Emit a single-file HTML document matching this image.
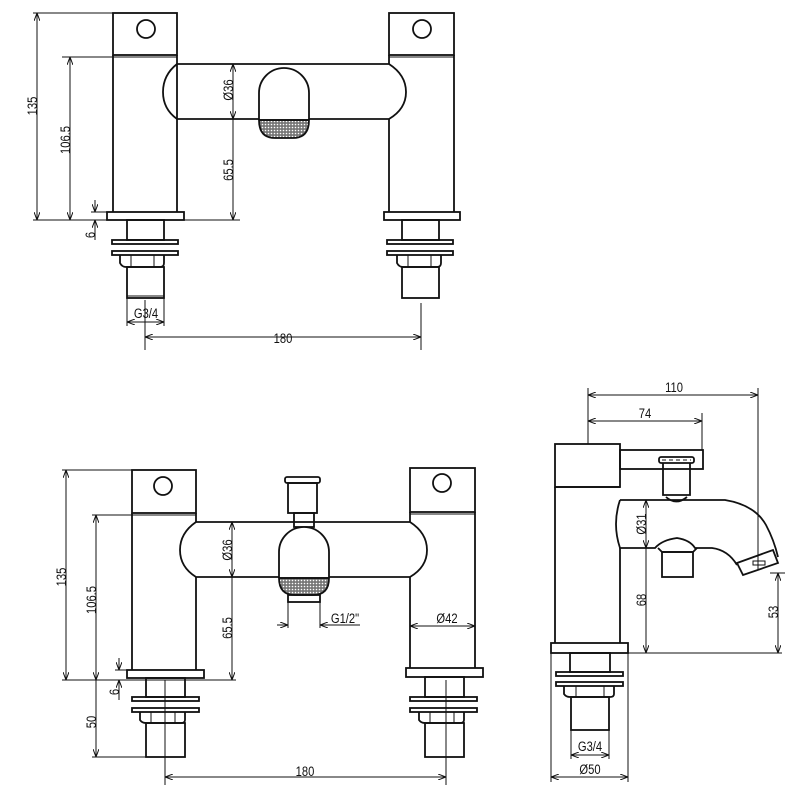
<!DOCTYPE html>
<html><head><meta charset="utf-8"><style>
html,body{margin:0;padding:0;background:#fff;width:800px;height:797px;overflow:hidden}
svg{display:block}
text{font-family:"Liberation Sans",sans-serif;font-size:14px;fill:#111}
</style></head><body>
<svg width="800" height="797" viewBox="0 0 800 797" xmlns="http://www.w3.org/2000/svg">
<defs>
<pattern id="mesh" width="3" height="3" patternUnits="userSpaceOnUse"><rect width="3" height="3" fill="#777"/><circle cx="1.5" cy="1.5" r="0.8" fill="#fff"/></pattern>
<marker id="ar" markerWidth="8" markerHeight="6" refX="8" refY="3" orient="auto-start-reverse" markerUnits="userSpaceOnUse"><path d="M0,0 L8,3 L0,6" fill="none" stroke="#111" stroke-width="1"/></marker>
</defs>
<g fill="none" stroke="#111" stroke-width="1.8">
<!-- ===== TOP VIEW ===== -->
<rect x="113" y="13" width="64" height="42"/><circle cx="146" cy="29" r="9"/>
<line x1="113" y1="57" x2="177" y2="57" stroke-width="1"/>
<line x1="113" y1="55" x2="113" y2="212"/><line x1="177" y1="64" x2="177" y2="212"/><line x1="177" y1="55" x2="177" y2="64"/>
<rect x="107" y="212" width="77" height="8"/>
<rect x="389" y="13" width="65" height="42"/><circle cx="422" cy="29" r="9"/>
<line x1="389" y1="57" x2="454" y2="57" stroke-width="1"/>
<line x1="389" y1="55" x2="389" y2="64"/><line x1="389" y1="119" x2="389" y2="212"/><line x1="454" y1="55" x2="454" y2="212"/>
<rect x="384" y="212" width="76" height="8"/>
<path d="M177,64 L389,64 Q406,75 406,92 Q406,109 389,119 L177,119 Q163,109 163,92 Q163,75 177,64 Z"/>
<path d="M259,120 L259,93 A25,25 0 0 1 309,93 L309,120" fill="#fff"/>
<path d="M259,120 Q259,138 275,138 L293,138 Q309,138 309,120 Z" fill="url(#mesh)"/>
<line x1="259" y1="120" x2="309" y2="120"/>
<!-- left stem -->
<rect x="127" y="220" width="37" height="20"/>
<rect x="112" y="240" width="66" height="4"/><rect x="112" y="251" width="66" height="4"/>
<path d="M120,255 L120,263 Q122,267 126,267 L160,267 Q164,267 164,263 L164,255"/>
<line x1="131" y1="255" x2="131" y2="267" stroke-width="1"/><line x1="154" y1="255" x2="154" y2="267" stroke-width="1"/>
<rect x="127" y="267" width="37" height="31"/><line x1="127" y1="296" x2="164" y2="296" stroke-width="1"/>
<!-- right stem -->
<rect x="402" y="220" width="37" height="20"/>
<rect x="387" y="240" width="66" height="4"/><rect x="387" y="251" width="66" height="4"/>
<path d="M397,255 L397,263 Q399,267 403,267 L437,267 Q441,267 441,263 L441,255"/>
<line x1="408" y1="255" x2="408" y2="267" stroke-width="1"/><line x1="431" y1="255" x2="431" y2="267" stroke-width="1"/>
<rect x="402" y="267" width="37" height="31"/>
<!-- dims top -->
<g stroke-width="1">
<line x1="33" y1="13" x2="113" y2="13"/><line x1="33" y1="220" x2="240" y2="220"/>
<line x1="37" y1="13" x2="37" y2="220" marker-start="url(#ar)" marker-end="url(#ar)"/>
<line x1="62" y1="57" x2="113" y2="57"/>
<line x1="70" y1="57" x2="70" y2="220" marker-start="url(#ar)" marker-end="url(#ar)"/>
<line x1="233" y1="64" x2="233" y2="119" marker-start="url(#ar)" marker-end="url(#ar)"/>
<line x1="233" y1="119" x2="233" y2="220" marker-end="url(#ar)"/>
<line x1="91" y1="212" x2="107" y2="212"/>
<line x1="95" y1="200" x2="95" y2="212" marker-end="url(#ar)"/><line x1="95" y1="240" x2="95" y2="220" marker-end="url(#ar)"/>
<line x1="127" y1="298" x2="127" y2="326"/><line x1="164" y1="298" x2="164" y2="326"/>
<line x1="127" y1="322" x2="164" y2="322" marker-start="url(#ar)" marker-end="url(#ar)"/>
<line x1="145" y1="300" x2="145" y2="350"/><line x1="421" y1="303" x2="421" y2="350"/>
<line x1="145" y1="337" x2="421" y2="337" marker-start="url(#ar)" marker-end="url(#ar)"/>
</g>

<!-- ===== BOTTOM LEFT ===== -->
<rect x="132" y="470" width="64" height="43"/><circle cx="163" cy="486" r="9"/>
<line x1="132" y1="515" x2="196" y2="515" stroke-width="1"/>
<line x1="132" y1="513" x2="132" y2="670"/><line x1="196" y1="513" x2="196" y2="522"/><line x1="196" y1="577" x2="196" y2="670"/>
<rect x="127" y="670" width="77" height="8"/>
<rect x="410" y="468" width="65" height="44"/><circle cx="442" cy="483" r="9"/>
<line x1="410" y1="514" x2="475" y2="514" stroke-width="1"/>
<line x1="410" y1="512" x2="410" y2="522"/><line x1="410" y1="577" x2="410" y2="668"/><line x1="475" y1="512" x2="475" y2="668"/>
<rect x="406" y="668" width="77" height="9"/>
<path d="M196,522 L410,522 Q427,533 427,550 Q427,567 410,577 L196,577 Q180,567 180,550 Q180,533 196,522 Z"/>
<rect x="285" y="477" width="35" height="6" rx="2"/>
<rect x="288" y="483" width="29" height="30"/>
<rect x="294" y="513" width="20" height="14"/>
<path d="M279,578 L279,552 A25,25 0 0 1 329,552 L329,578" fill="#fff"/>
<path d="M279,578 Q279,595 295,595 L313,595 Q329,595 329,578 Z" fill="url(#mesh)"/>
<line x1="279" y1="578" x2="329" y2="578"/>
<rect x="288" y="595" width="32" height="7"/>
<!-- stems -->
<rect x="146" y="678" width="39" height="19"/>
<rect x="132" y="697" width="67" height="4"/><rect x="132" y="708" width="67" height="4"/>
<path d="M140,712 L140,720 Q142,723 146,723 L181,723 Q185,723 185,720 L185,712"/>
<line x1="151" y1="712" x2="151" y2="723" stroke-width="1"/><line x1="175" y1="712" x2="175" y2="723" stroke-width="1"/>
<rect x="146" y="723" width="39" height="34"/>
<rect x="425" y="677" width="39" height="20"/>
<rect x="410" y="697" width="67" height="4"/><rect x="410" y="708" width="67" height="4"/>
<path d="M419,712 L419,720 Q421,723 425,723 L460,723 Q464,723 464,720 L464,712"/>
<line x1="430" y1="712" x2="430" y2="723" stroke-width="1"/><line x1="454" y1="712" x2="454" y2="723" stroke-width="1"/>
<rect x="425" y="723" width="39" height="34"/>
<g stroke-width="1">
<line x1="62" y1="470" x2="132" y2="470"/><line x1="62" y1="680" x2="236" y2="680"/>
<line x1="66" y1="470" x2="66" y2="680" marker-start="url(#ar)" marker-end="url(#ar)"/>
<line x1="92" y1="515" x2="132" y2="515"/>
<line x1="96" y1="515" x2="96" y2="680" marker-start="url(#ar)" marker-end="url(#ar)"/>
<line x1="96" y1="680" x2="96" y2="757" marker-end="url(#ar)"/>
<line x1="92" y1="757" x2="146" y2="757"/>
<line x1="232" y1="522" x2="232" y2="577" marker-start="url(#ar)" marker-end="url(#ar)"/>
<line x1="232" y1="577" x2="232" y2="680" marker-end="url(#ar)"/>
<line x1="115" y1="670" x2="127" y2="670"/>
<line x1="119" y1="658" x2="119" y2="670" marker-end="url(#ar)"/><line x1="119" y1="700" x2="119" y2="680" marker-end="url(#ar)"/>
<line x1="288" y1="602" x2="288" y2="628"/><line x1="320" y1="602" x2="320" y2="628"/>
<line x1="277" y1="625" x2="288" y2="625" marker-end="url(#ar)"/><line x1="360" y1="625" x2="320" y2="625" marker-end="url(#ar)"/>
<line x1="410" y1="626" x2="475" y2="626" marker-start="url(#ar)" marker-end="url(#ar)"/>
<line x1="165" y1="680" x2="165" y2="785"/><line x1="446" y1="680" x2="446" y2="785"/>
<line x1="165" y1="777" x2="446" y2="777" marker-start="url(#ar)" marker-end="url(#ar)"/>
</g>

<!-- ===== SIDE VIEW ===== -->
<rect x="555" y="444" width="65" height="43"/>
<line x1="555" y1="487" x2="620" y2="487"/>
<line x1="555" y1="487" x2="555" y2="643"/><line x1="620" y1="548" x2="620" y2="643"/>
<rect x="551" y="643" width="77" height="10"/>
<rect x="620" y="450" width="83" height="19"/>
<rect x="659" y="457" width="35" height="6" rx="2"/>
<line x1="662" y1="460" x2="691" y2="460" stroke-width="1" stroke-dasharray="4 3"/>
<path d="M663,463 L663,495 L690,495 L690,463"/>
<path d="M666,497 Q676,506 687,497"/>
<path d="M620,500 L725,500 Q755,505 766,525 Q774,540 778,557"/>
<path d="M620,500 Q612,524 620,548 L655,548 Q662,540 677,538 Q690,540 695,548 L712,548 Q728,550 737,565"/>
<path d="M737,563 L773,550 L778,563 L743,575 Z"/>
<rect x="753" y="561" width="12" height="4" stroke-width="1"/>
<path d="M658,548 L662,552 L693,552 L697,548"/>
<rect x="662" y="552" width="31" height="25"/>
<rect x="570" y="653" width="40" height="19"/>
<rect x="556" y="672" width="67" height="4"/><rect x="556" y="682" width="67" height="4"/>
<path d="M564,686 L564,694 Q566,697 570,697 L610,697 Q614,697 614,694 L614,686"/>
<line x1="576" y1="686" x2="576" y2="697" stroke-width="1"/><line x1="604" y1="686" x2="604" y2="697" stroke-width="1"/>
<rect x="571" y="697" width="38" height="33"/>
<g stroke-width="1">
<line x1="588" y1="388" x2="588" y2="444"/><line x1="758" y1="388" x2="758" y2="570"/>
<line x1="588" y1="395" x2="758" y2="395" marker-start="url(#ar)" marker-end="url(#ar)"/>
<line x1="702" y1="413" x2="702" y2="450"/>
<line x1="588" y1="421" x2="702" y2="421" marker-start="url(#ar)" marker-end="url(#ar)"/>
<line x1="646" y1="500" x2="646" y2="548" marker-start="url(#ar)" marker-end="url(#ar)"/>
<line x1="646" y1="548" x2="646" y2="653" marker-end="url(#ar)"/>
<line x1="628" y1="653" x2="782" y2="653"/>
<line x1="770" y1="573" x2="785" y2="573"/>
<line x1="778" y1="573" x2="778" y2="653" marker-start="url(#ar)" marker-end="url(#ar)"/>
<line x1="571" y1="730" x2="571" y2="759"/><line x1="609" y1="730" x2="609" y2="759"/>
<line x1="571" y1="755" x2="609" y2="755" marker-start="url(#ar)" marker-end="url(#ar)"/>
<line x1="551" y1="653" x2="551" y2="782"/><line x1="628" y1="653" x2="628" y2="782"/>
<line x1="551" y1="777" x2="628" y2="777" marker-start="url(#ar)" marker-end="url(#ar)"/>
</g>
</g>
<!-- labels -->
<g>
<text transform="translate(37,106) rotate(-90) scale(0.8,1)" text-anchor="middle">135</text>
<text transform="translate(70,140) rotate(-90) scale(0.8,1)" text-anchor="middle">106.5</text>
<text transform="translate(233,90) rotate(-90) scale(0.8,1)" text-anchor="middle">Ø36</text>
<text transform="translate(233,170) rotate(-90) scale(0.8,1)" text-anchor="middle">65.5</text>
<text transform="translate(95,235) rotate(-90) scale(0.8,1)" text-anchor="middle">6</text>
<text transform="translate(146,318) scale(0.8,1)" text-anchor="middle">G3/4</text>
<text transform="translate(283,343) scale(0.8,1)" text-anchor="middle">180</text>

<text transform="translate(66,577) rotate(-90) scale(0.8,1)" text-anchor="middle">135</text>
<text transform="translate(96,600) rotate(-90) scale(0.8,1)" text-anchor="middle">106.5</text>
<text transform="translate(232,550) rotate(-90) scale(0.8,1)" text-anchor="middle">Ø36</text>
<text transform="translate(232,628) rotate(-90) scale(0.8,1)" text-anchor="middle">65.5</text>
<text transform="translate(119,692) rotate(-90) scale(0.8,1)" text-anchor="middle">6</text>
<text transform="translate(96,722) rotate(-90) scale(0.8,1)" text-anchor="middle">50</text>
<text transform="translate(345,623) scale(0.8,1)" text-anchor="middle">G1/2"</text>
<text transform="translate(447,623) scale(0.8,1)" text-anchor="middle">Ø42</text>
<text transform="translate(305,776) scale(0.8,1)" text-anchor="middle">180</text>

<text transform="translate(674,392) scale(0.8,1)" text-anchor="middle">110</text>
<text transform="translate(645,418) scale(0.8,1)" text-anchor="middle">74</text>
<text transform="translate(646,524) rotate(-90) scale(0.8,1)" text-anchor="middle">Ø31</text>
<text transform="translate(646,600) rotate(-90) scale(0.8,1)" text-anchor="middle">68</text>
<text transform="translate(778,612) rotate(-90) scale(0.8,1)" text-anchor="middle">53</text>
<text transform="translate(590,751) scale(0.8,1)" text-anchor="middle">G3/4</text>
<text transform="translate(590,774) scale(0.8,1)" text-anchor="middle">Ø50</text>
</g>
</svg>
</body></html>
